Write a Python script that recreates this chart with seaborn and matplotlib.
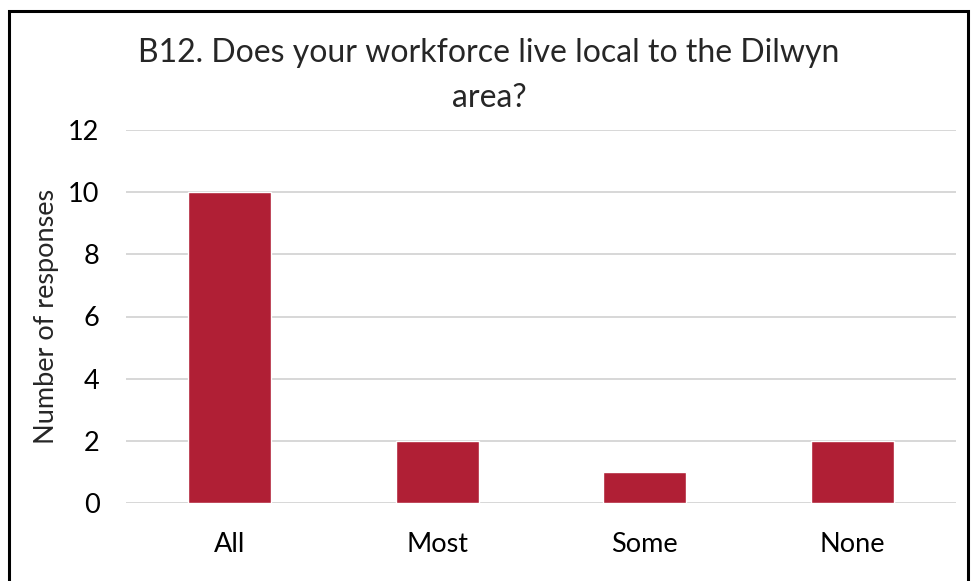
import matplotlib
matplotlib.use("Agg")
import matplotlib.pyplot as plt
import matplotlib.patches as mpatches
import seaborn as sns
import pandas as pd

categories = ["All", "Most", "Some", "None"]
responses = [10, 2, 1, 2]
y_ticks = [0, 2, 4, 6, 8, 10, 12]
title_text = "B12. Does your workforce live local to the Dilwyn\narea?"
y_label = "Number of responses"

sns.set_theme(style="white")
plt.rcParams["font.family"] = ["Lato", "DejaVu Sans"]

W, H = 973, 581
fig = plt.figure(figsize=(W / 100, H / 100), dpi=100)
ax = fig.add_axes([126 / W, 1 - 503 / H, (956 - 126) / W, (503 - 130) / H])

df = pd.DataFrame({"category": categories, "responses": responses})
sns.barplot(data=df, x="category", y="responses", color="#B01F35",
            width=0.4, saturation=1, ax=ax, zorder=3)

ax.set_ylim(0, 12)
ax.set_xlim(-0.5, len(categories) - 0.5)
ax.set_yticks(y_ticks)
ax.yaxis.grid(True, color="#D4D4D4", linewidth=1.3, zorder=0)
ax.xaxis.grid(False)
for s in ax.spines.values():
    s.set_visible(False)
ax.tick_params(axis="both", length=0, labelsize=19.5, colors="#000000")
ax.tick_params(axis="y", pad=19)
ax.tick_params(axis="x", pad=21)
ax.set_xlabel("")
ax.set_ylabel(y_label, fontsize=19.5, labelpad=7)

fig.text(489 / W, 1 - 38 / H, title_text, ha="center", va="top",
         fontsize=23, linespacing=1.62)

# outer chart frame
frame = mpatches.Rectangle((9 / W, -0.05), (968 - 9) / W, 1.05 - 11 / H,
                           transform=fig.transFigure, fill=False,
                           edgecolor="black", linewidth=2.2)
fig.patches.append(frame)

fig.savefig("out.png", dpi=100)
